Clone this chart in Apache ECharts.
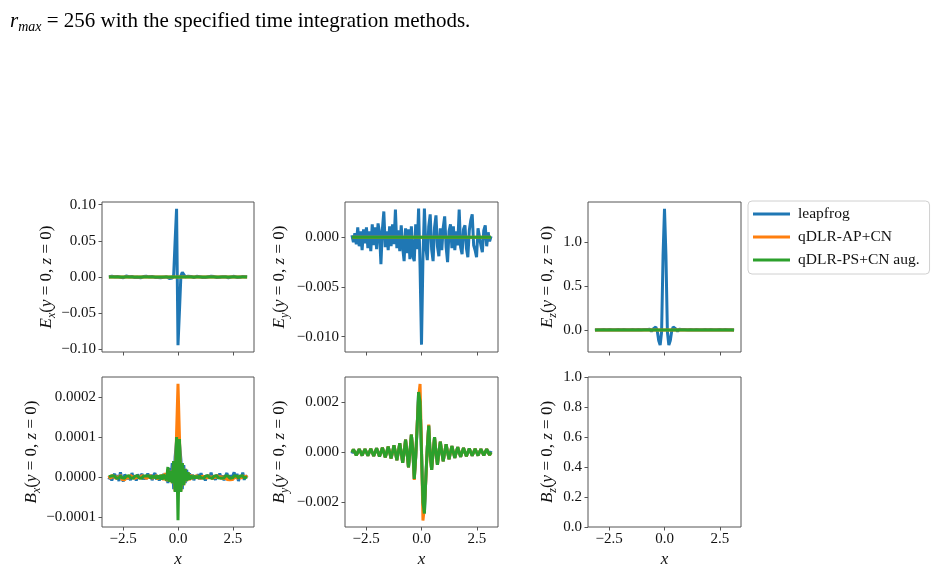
<!DOCTYPE html>
<html><head><meta charset="utf-8">
<script src="https://cdn.jsdelivr.net/npm/echarts@6/dist/echarts.min.js"></script>
<style>html,body{margin:0;padding:0;background:#fff}#c{width:934px;height:571px}</style>
</head><body><div id="c"></div>
<script>
// x sampling grid (-pi .. pi)
const xGrid = [
-3.142,-3.076,-3.011,-2.945,-2.880,-2.814,-2.749,-2.683,-2.618,-2.553,-2.487,-2.422,
-2.356,-2.291,-2.225,-2.160,-2.094,-2.029,-1.963,-1.898,-1.833,-1.767,-1.702,-1.636,
-1.571,-1.505,-1.440,-1.374,-1.309,-1.244,-1.178,-1.113,-1.047,-0.982,-0.916,-0.851,
-0.785,-0.720,-0.654,-0.589,-0.524,-0.458,-0.393,-0.327,-0.262,-0.196,-0.131,-0.065,
0,
0.065,0.131,0.196,0.262,0.327,0.393,0.458,0.524,0.589,0.654,0.720,0.785,
0.851,0.916,0.982,1.047,1.113,1.178,1.244,1.309,1.374,1.440,1.505,1.571,
1.636,1.702,1.767,1.833,1.898,1.963,2.029,2.094,2.160,2.225,2.291,2.356,
2.422,2.487,2.553,2.618,2.683,2.749,2.814,2.880,2.945,3.011,3.076,3.142];
const flatX = [-3.142, 3.142];

// E_x
const exLeapfrog = [
0.0005,-0.0008,0.0010,-0.0005,0.0003,-0.0010,0.0006,0.0002,-0.0004,0.0008,-0.0012,0.0005,
0.0015,-0.0006,0.0004,-0.0010,0.0007,0.0022,-0.0008,0.0003,-0.0005,0.0009,-0.0012,0.0004,
0.0006,-0.0009,0.0011,-0.0004,0.0002,-0.0014,0.0008,0.0003,-0.0006,0.0010,-0.0007,0.0004,
-0.0010,0.0012,-0.0005,0.0008,0.0004,-0.0012,-0.0022,-0.0040,-0.0015,0.0030,0.0500,0.0943,
-0.0943,
-0.0480,0.0015,0.0065,0.0040,0.0005,-0.0012,0.0010,-0.0006,0.0008,0.0012,-0.0007,0.0004,
0.0010,-0.0009,0.0005,0.0020,-0.0006,0.0003,-0.0008,0.0011,0.0004,-0.0006,0.0009,-0.0012,
0.0006,0.0003,-0.0007,0.0010,-0.0004,0.0021,0.0005,-0.0009,0.0004,0.0007,-0.0011,0.0006,
0.0002,-0.0008,0.0010,0.0004,-0.0006,0.0012,-0.0005,0.0003,0.0008,-0.0010,0.0004,0.0002];
const exAP = [0, 0];
const exPS = [0, 0];

// E_y
const eyLeapfrog = [
0.0002,-0.0005,0.0004,-0.0007,0.0010,-0.0009,0.0006,-0.0013,0.0008,-0.0006,0.0010,-0.0011,
0.0006,-0.0014,0.0013,-0.0008,0.0010,-0.0012,0.0014,0.0005,-0.0027,0.0008,0.0026,-0.0010,
0.0006,-0.0013,0.0011,-0.0009,0.0013,-0.0007,0.0028,-0.0011,0.0007,-0.0014,0.0012,-0.0010,
-0.0024,0.0009,-0.0016,0.0008,-0.0022,0.0011,-0.0019,-0.0024,0.0013,-0.0012,0.0029,-0.0030,
-0.0108,
-0.0022,0.0029,-0.0010,-0.0023,0.0011,0.0023,-0.0012,-0.0024,0.0010,0.0022,-0.0009,-0.0019,
0.0009,-0.0013,0.0010,0.0021,-0.0010,-0.0025,0.0006,0.0013,-0.0011,0.0011,-0.0013,0.0006,
-0.0008,0.0028,-0.0010,-0.0017,0.0008,0.0012,-0.0011,-0.0020,0.0007,0.0017,0.0023,-0.0008,
-0.0013,-0.0020,0.0009,0.0011,-0.0008,-0.0015,0.0007,0.0012,-0.0009,0.0005,-0.0004,0.0001];
const eyAP = [0, 0];
const eyPS = [0, 0];

// E_z
const ezLeapfrog = [
0.000,-0.006,0.004,-0.008,0.003,-0.005,0.006,-0.007,0.002,-0.006,0.005,-0.004,
0.003,-0.008,0.004,-0.005,0.006,-0.006,0.002,-0.007,0.005,-0.004,0.003,-0.008,
0.004,-0.006,0.005,-0.007,0.003,-0.005,0.006,-0.008,0.004,-0.006,0.005,-0.010,
0.006,-0.012,0.008,-0.015,0.010,0.030,0.035,-0.010,-0.120,-0.173,-0.020,0.850,
1.382,
0.850,-0.020,-0.173,-0.120,-0.010,0.035,0.030,0.010,-0.015,0.008,-0.012,0.006,
-0.010,0.005,-0.006,0.004,-0.008,0.006,-0.005,0.003,-0.007,0.005,-0.006,0.004,
-0.008,0.003,-0.005,0.006,-0.007,0.002,-0.006,0.005,-0.004,0.003,-0.008,0.004,
-0.005,0.006,-0.006,0.002,-0.007,0.005,-0.004,0.003,-0.008,0.004,-0.006,0.000];
const ezAP = [0, 0];
const ezPS = [0, 0];

// B_x
const bxLeapfrog = [
-0.6e-5,0.4e-5,-0.9e-5,0.2e-5,0.8e-5,-0.4e-5,0.5e-5,-1.0e-5,1.2e-5,-0.3e-5,-1.1e-5,0.6e-5,
0.9e-5,-0.5e-5,0.3e-5,-0.8e-5,1.0e-5,-0.2e-5,0.4e-5,-0.9e-5,0.7e-5,-0.4e-5,0.2e-5,0.8e-5,
-0.6e-5,0.3e-5,-0.5e-5,0.9e-5,-0.3e-5,0.6e-5,-0.8e-5,0.4e-5,1.0e-5,-0.6e-5,0.2e-5,-0.9e-5,
0.5e-5,-0.4e-5,0.8e-5,-0.6e-5,0.4e-5,-1.5e-5,2.2e-5,-1.0e-5,3.5e-5,-3.0e-5,5.0e-5,9.0e-5,
11.5e-5,
8.5e-5,4.5e-5,-3.0e-5,3.0e-5,-1.5e-5,1.8e-5,-0.8e-5,0.9e-5,-0.5e-5,0.6e-5,-0.8e-5,0.4e-5,
-0.3e-5,0.7e-5,-0.6e-5,1.0e-5,-0.4e-5,0.3e-5,-0.9e-5,0.5e-5,0.8e-5,-0.3e-5,1.1e-5,-0.5e-5,
0.2e-5,-0.7e-5,0.6e-5,-0.4e-5,0.9e-5,-0.2e-5,0.4e-5,-0.8e-5,0.3e-5,1.0e-5,-0.6e-5,0.5e-5,
-0.9e-5,0.3e-5,1.2e-5,-0.4e-5,0.8e-5,-1.0e-5,0.5e-5,-0.3e-5,1.1e-5,-0.7e-5,0.4e-5,-0.2e-5];
const bxAP = [
0.3e-5,-0.4e-5,0.5e-5,-0.2e-5,0.4e-5,-0.5e-5,0.2e-5,-0.3e-5,0.5e-5,-0.6e-5,-0.9e-5,-0.7e-5,
-0.8e-5,0.2e-5,-0.4e-5,0.5e-5,-0.2e-5,0.3e-5,-0.5e-5,0.4e-5,-0.3e-5,0.2e-5,-0.4e-5,0.5e-5,
-0.2e-5,0.3e-5,-0.5e-5,0.4e-5,-0.3e-5,0.5e-5,-0.4e-5,0.2e-5,-0.3e-5,0.5e-5,-0.6e-5,0.4e-5,
-0.3e-5,0.6e-5,-0.8e-5,1.0e-5,-1.0e-5,2.0e-5,-1.2e-5,1.5e-5,-1.5e-5,4.0e-5,-3.5e-5,11.0e-5,
23.3e-5,
10.5e-5,-3.5e-5,3.5e-5,-2.0e-5,2.0e-5,-1.0e-5,1.2e-5,-0.8e-5,0.6e-5,-0.5e-5,0.4e-5,-0.3e-5,
0.5e-5,-0.4e-5,0.3e-5,-0.5e-5,0.4e-5,-0.2e-5,0.3e-5,-0.4e-5,0.5e-5,-0.3e-5,0.2e-5,-0.5e-5,
0.4e-5,-0.3e-5,0.5e-5,-0.2e-5,0.3e-5,-0.4e-5,0.2e-5,-0.5e-5,0.3e-5,-0.6e-5,-0.8e-5,-0.7e-5,
-0.9e-5,-0.6e-5,-0.8e-5,0.3e-5,-0.4e-5,0.2e-5,0.5e-5,-0.3e-5,0.4e-5,-0.2e-5,0.3e-5,-0.1e-5];
const bxPS = [
0.1e-5,-0.2e-5,0.3e-5,-0.1e-5,0.2e-5,-0.3e-5,0.1e-5,-0.2e-5,0.3e-5,-0.2e-5,0.1e-5,-0.3e-5,
0.2e-5,-0.1e-5,0.3e-5,-0.2e-5,0.1e-5,-0.3e-5,0.2e-5,-0.1e-5,0.3e-5,-0.2e-5,0.1e-5,-0.3e-5,
0.2e-5,-0.2e-5,0.3e-5,-0.1e-5,0.2e-5,-0.3e-5,0.3e-5,-0.2e-5,0.3e-5,-0.4e-5,0.4e-5,-0.5e-5,
0.5e-5,-0.6e-5,0.6e-5,0.3e-5,-0.8e-5,2.5e-5,-1.2e-5,1.5e-5,-1.5e-5,4.0e-5,-3.7e-5,10.0e-5,
-10.8e-5,
9.5e-5,-3.7e-5,3.5e-5,-2.0e-5,2.0e-5,-1.0e-5,1.2e-5,-0.6e-5,0.4e-5,-0.4e-5,0.3e-5,-0.3e-5,
0.2e-5,-0.3e-5,0.3e-5,-0.2e-5,0.1e-5,-0.3e-5,0.2e-5,-0.1e-5,0.3e-5,-0.2e-5,0.1e-5,-0.3e-5,
0.2e-5,-0.1e-5,0.3e-5,-0.2e-5,0.2e-5,-0.3e-5,0.1e-5,-0.2e-5,0.3e-5,-0.1e-5,0.2e-5,-0.3e-5,
0.1e-5,-0.2e-5,0.3e-5,-0.1e-5,0.2e-5,-0.3e-5,0.2e-5,-0.1e-5,0.3e-5,-0.2e-5,0.1e-5,0.0];

// B_y
const byLeapfrog = [
-0.00005,0.00011,0,-0.00012,0,0.00012,0,-0.00013,0,0.00013,0,-0.00014,
0,0.00014,0,-0.00015,0,0.00016,0,-0.00017,0,0.00018,0,-0.00020,
0,0.00022,0,-0.00025,0,0.00028,0,-0.00032,0,0.00036,0,-0.00042,
0,0.00050,0,-0.00060,0,0.00070,0.00010,-0.00106,-0.00020,0.00100,0.00240,0.00200,
0,
-0.00200,-0.00244,-0.00100,0.00020,0.00106,-0.00010,-0.00070,0,0.00060,0,-0.00050,0,
0.00042,0,-0.00036,0,0.00032,0,-0.00028,0,0.00025,0,-0.00022,0,
0.00020,0,-0.00018,0,0.00017,0,-0.00016,0,0.00015,0,-0.00014,0,
0.00014,0,-0.00013,0,0.00013,0,-0.00012,0,0.00012,0,-0.00011,0.00005];
const byAP = [
0,0.00011,0,-0.00012,0,0.00012,0,-0.00013,0,0.00013,0,-0.00014,
0,0.00014,0,-0.00015,0,0.00016,0,-0.00017,0,0.00018,0,-0.00020,
0,0.00022,0,-0.00025,0,0.00028,0,-0.00032,0,0.00036,0,-0.00042,
0,0.00050,0,-0.00060,0,0.00070,0.00010,-0.00110,-0.00020,0.00110,0.00220,0.00272,
0.00020,
-0.00272,-0.00220,-0.00110,0.00020,0.00110,-0.00010,-0.00070,0,0.00060,0,-0.00050,0,
0.00042,0,-0.00036,0,0.00032,0,-0.00028,0,0.00025,0,-0.00022,0,
0.00020,0,-0.00018,0,0.00017,0,-0.00016,0,0.00015,0,-0.00014,0,
0.00014,0,-0.00013,0,0.00013,0,-0.00012,0,0.00012,0,-0.00011,0];
const byPS = [
0,0.00011,0,-0.00012,0,0.00012,0,-0.00013,0,0.00013,0,-0.00014,
0,0.00014,0,-0.00015,0,0.00016,0,-0.00017,0,0.00018,0,-0.00020,
0,0.00022,0,-0.00025,0,0.00028,0,-0.00032,0,0.00036,0,-0.00042,
0,0.00050,0,-0.00060,0,0.00070,0.00010,-0.00106,-0.00020,0.00100,0.00240,0.00200,
0,
-0.00200,-0.00244,-0.00100,0.00020,0.00106,-0.00010,-0.00070,0,0.00060,0,-0.00050,0,
0.00042,0,-0.00036,0,0.00032,0,-0.00028,0,0.00025,0,-0.00022,0,
0.00020,0,-0.00018,0,0.00017,0,-0.00016,0,0.00015,0,-0.00014,0,
0.00014,0,-0.00013,0,0.00013,0,-0.00012,0,0.00012,0,-0.00011,0];

// tick values
const xTicks = [-2.5, 0, 2.5];
const exTicks = [-0.10, -0.05, 0, 0.05, 0.10];
const eyTicks = [-0.010, -0.005, 0];
const ezTicks = [0, 0.5, 1.0];
const bxTicks = [-0.0001, 0, 0.0001, 0.0002];
const byTicks = [-0.002, 0, 0.002];
const bzTicks = [0, 0.2, 0.4, 0.6, 0.8, 1.0];

const seriesNames = ['leapfrog', 'qDLR-AP+CN', 'qDLR-PS+CN aug.'];
const colors = ['#1f77b4', '#ff7f0e', '#2ca02c'];
const captionText = ' = 256 with the specified time integration methods.';

const FONT = "'Liberation Serif', 'Times New Roman', serif";
const TXT = '#111';
const SPINE = '#555';

function pairs(xs, ys) { return ys.map((y, i) => [xs[i], y]); }
function fmt(v, d) {
  const s = Math.abs(v).toFixed(d);
  return (v < -1e-12 ? '\u2212' : '') + s;
}
function mathName(L, sub) {
  return '{i|' + L + '}{s|' + sub + '}{n|(}{i|y}{n| = 0, }{i|z}{n| = 0)}';
}
const mathRich = {
  i: { fontFamily: FONT, fontStyle: 'italic', fontSize: 17, lineHeight: 22, color: TXT },
  n: { fontFamily: FONT, fontSize: 17, lineHeight: 22, color: TXT },
  s: { fontFamily: FONT, fontStyle: 'italic', fontSize: 12, lineHeight: 12, verticalAlign: 'bottom', color: TXT }
};

const panels = [
  { g: [102, 202, 152], lab: ['E', 'x'], y: [-0.1037, 0.1037], ticks: exTicks, dec: 2,
    ser: [[xGrid, exLeapfrog], [flatX, exAP], [flatX, exPS]], bottom: false, gap: 44 },
  { g: [345, 202, 153], lab: ['E', 'y'], y: [-0.01154, 0.00355], ticks: eyTicks, dec: 3,
    ser: [[xGrid, eyLeapfrog], [flatX, eyAP], [flatX, eyPS]], bottom: false, gap: 54 },
  { g: [588, 202, 153], lab: ['E', 'z'], y: [-0.2509, 1.4595], ticks: ezTicks, dec: 1,
    ser: [[xGrid, ezLeapfrog], [flatX, ezAP], [flatX, ezPS]], bottom: false, gap: 29 },
  { g: [102, 377, 152], lab: ['B', 'x'], y: [-1.247e-4, 2.497e-4], ticks: bxTicks, dec: 4,
    ser: [[xGrid, bxLeapfrog], [xGrid, bxAP], [xGrid, bxPS]], bottom: true, gap: 44 },
  { g: [345, 377, 153], lab: ['B', 'y'], y: [-0.00298, 0.00300], ticks: byTicks, dec: 3,
    ser: [[xGrid, byLeapfrog], [xGrid, byAP], [xGrid, byPS]], bottom: true, gap: 54 },
  { g: [588, 377, 153], lab: ['B', 'z'], y: [0, 1], ticks: bzTicks, dec: 1,
    ser: [], bottom: true, gap: 29 }
];

const grids = [], xAxes = [], yAxes = [], series = [];
panels.forEach((p, k) => {
  grids.push({ left: p.g[0], top: p.g[1], width: p.g[2], height: 150, show: true,
    borderColor: SPINE, borderWidth: 1, backgroundColor: 'transparent',
    containLabel: false, outerBoundsMode: 'none' });
  xAxes.push({ gridIndex: k, type: 'value', min: -3.456, max: 3.456, position: 'bottom',
    axisLine: { show: false, onZero: false }, splitLine: { show: false },
    axisTick: { show: true, length: 3.5, customValues: xTicks, lineStyle: { color: SPINE, width: 1 } },
    axisLabel: { show: p.bottom, customValues: xTicks, formatter: v => fmt(v, 1), margin: 5,
      fontFamily: FONT, fontSize: 15, color: TXT },
    name: p.bottom ? 'x' : '', nameLocation: 'middle', nameGap: 24,
    nameTextStyle: { fontFamily: FONT, fontStyle: 'italic', fontSize: 17, color: TXT } });
  yAxes.push({ gridIndex: k, type: 'value', min: p.y[0], max: p.y[1], position: 'left',
    axisLine: { show: false, onZero: false }, splitLine: { show: false },
    axisTick: { show: true, length: 3.5, customValues: p.ticks, lineStyle: { color: SPINE, width: 1 } },
    axisLabel: { customValues: p.ticks, formatter: v => fmt(v, p.dec), margin: 6,
      fontFamily: FONT, fontSize: 15, color: TXT },
    name: mathName(p.lab[0], p.lab[1]), nameLocation: 'middle', nameRotate: 90, nameGap: p.gap,
    nameTextStyle: { fontFamily: FONT, fontSize: 17, color: TXT, rich: mathRich } });
  p.ser.forEach((s, j) => {
    series.push({ type: 'line', name: seriesNames[j], xAxisIndex: k, yAxisIndex: k,
      data: pairs(s[0], s[1]), showSymbol: false, symbol: 'none', silent: true,
      lineStyle: { color: colors[j], width: 3 }, itemStyle: { color: colors[j] },
      emphasis: { disabled: true }, z: 2 + j, clip: true });
  });
});

const chart = echarts.init(document.getElementById('c'), null, { renderer: 'canvas' });
chart.setOption({
  animation: false,
  backgroundColor: '#fff',
  title: {
    left: 5, top: 3,
    text: '{i|r}{s|max}{n|' + captionText + '}',
    textStyle: { fontWeight: 'normal', rich: {
      i: { fontFamily: FONT, fontStyle: 'italic', fontWeight: 'normal', fontSize: 21, lineHeight: 26, color: '#000' },
      s: { fontFamily: FONT, fontStyle: 'italic', fontWeight: 'normal', fontSize: 14, lineHeight: 14, verticalAlign: 'bottom', color: '#000' },
      n: { fontFamily: FONT, fontWeight: 'normal', fontSize: 21, lineHeight: 26, color: '#000' }
    } }
  },
  legend: {
    orient: 'vertical', left: 748, top: 201, data: seriesNames, icon: 'rect',
    itemWidth: 37, itemHeight: 3, itemGap: 7, padding: [5, 10, 6, 5],
    borderColor: '#d0d0d0', borderWidth: 1, borderRadius: 4,
    selectedMode: false,
    textStyle: { fontFamily: FONT, fontSize: 15.5, color: TXT, padding: [0, 0, 0, 3] }
  },
  grid: grids, xAxis: xAxes, yAxis: yAxes, series: series
});
</script></body></html>
